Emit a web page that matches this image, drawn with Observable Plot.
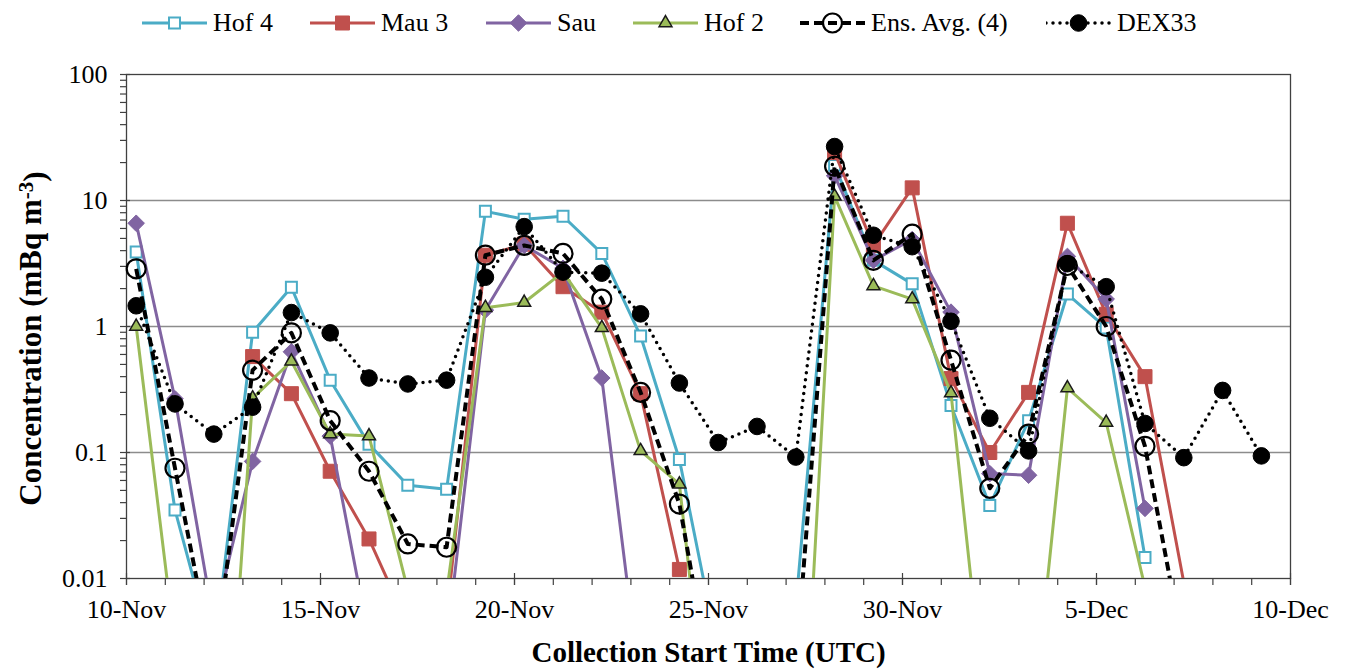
<!DOCTYPE html>
<html><head><meta charset="utf-8">
<script src="https://cdn.jsdelivr.net/npm/d3@7"></script>
<script src="https://cdn.jsdelivr.net/npm/@observablehq/plot@0.6"></script>
<style>
body{margin:0;background:#fff;font-family:"Liberation Serif","Times New Roman",serif;}
#legend{position:relative;height:45px;width:1349px;}
.item{position:absolute;top:0;height:45px;display:flex;align-items:center;font-size:26px;color:#000;white-space:nowrap;}
.item svg{margin-right:6px;}
</style></head><body>
<div id="legend"></div>
<div id="chart"></div>
<script>
// ---- data ----
const dates = [
 "2012-11-10T06:00Z","2012-11-11T06:00Z","2012-11-12T06:00Z","2012-11-13T06:00Z","2012-11-14T06:00Z",
 "2012-11-15T06:00Z","2012-11-16T06:00Z","2012-11-17T06:00Z","2012-11-18T06:00Z","2012-11-19T06:00Z",
 "2012-11-20T06:00Z","2012-11-21T06:00Z","2012-11-22T06:00Z","2012-11-23T06:00Z","2012-11-24T06:00Z",
 "2012-11-25T06:00Z","2012-11-26T06:00Z","2012-11-27T06:00Z","2012-11-28T06:00Z","2012-11-29T06:00Z",
 "2012-11-30T06:00Z","2012-12-01T06:00Z","2012-12-02T06:00Z","2012-12-03T06:00Z","2012-12-04T06:00Z",
 "2012-12-05T06:00Z","2012-12-06T06:00Z","2012-12-07T06:00Z","2012-12-08T06:00Z","2012-12-09T06:00Z"
];
const hof4 = [3.9, 0.035, 0.0025, 0.9, 2.05, 0.375, 0.116, 0.055, 0.051, 8.2,
              7.1, 7.5, 3.8, 0.84, 0.088, 0.0026, 0.003, 0.006, 19, 3.35,
              2.18, 0.236, 0.038, 0.179, 1.81, 0.975, 0.0147, null, null, null];
const mau3 = [null, null, null, 0.577, 0.293, 0.071, 0.0206, 0.0043, 0.005, 3.68,
              4.5, 2.07, 1.3, 0.293, 0.0118, null, null, null, 24, 4.4,
              12.6, 0.386, 0.10, 0.30, 6.6, 1.25, 0.40, 0.0093, null, null];
const sau  = [6.6, 0.267, 0.0045, 0.085, 0.63, 0.135, 0.0033, 0.003, 0.003, 1.35,
              4.4, 2.9, 0.39, 0.0013, null, null, null, null, 15.7, 3.35,
              4.9, 1.3, 0.068, 0.066, 3.6, 1.65, 0.036, null, null, null];
const hof2 = [1.0, 0.003, 0.00001, 0.27, 0.53, 0.14, 0.135, 0.0081, 0.0077, 1.41,
              1.55, 2.7, 0.975, 0.103, 0.056, 0.0001, 0.0001, 0.00003, 10.8, 2.1,
              1.65, 0.296, 0.0004, 0.00035, 0.325, 0.173, 0.0085, null, null, null];
const ensAvg = [2.87, 0.075, 0.002, 0.45, 0.89, 0.179, 0.071, 0.0188, 0.0177, 3.68,
                4.4, 3.8, 1.65, 0.30, 0.039, 0.0007, 0.001, 0.0019, 18.7, 3.35,
                5.4, 0.54, 0.052, 0.14, 3.05, 1.0, 0.112, 0.0026, null, null];
const dex33 = [1.46, 0.243, 0.14, 0.229, 1.29, 0.89, 0.39, 0.35, 0.375, 2.46,
               6.2, 2.7, 2.65, 1.26, 0.356, 0.12, 0.161, 0.092, 26.8, 5.3,
               4.3, 1.10, 0.187, 0.103, 3.15, 2.07, 0.17, 0.091, 0.311, 0.094];

const seriesNames = ["Hof 4", "Mau 3", "Sau", "Hof 2", "Ens. Avg. (4)", "DEX33"];
const yTicks = [0.01, 0.1, 1, 10, 100];
const yTickLabels = ["0.01", "0.1", "1", "10", "100"];
const yGrid = [0.1, 1, 10];
const xTicks = ["2012-11-10","2012-11-15","2012-11-20","2012-11-25","2012-11-30","2012-12-05","2012-12-10"];
const xTickLabels = ["10-Nov","15-Nov","20-Nov","25-Nov","30-Nov","5-Dec","10-Dec"];
const xTitle = "Collection Start Time (UTC)";
const yTitleMain = "Concentration (mBq m";
const yTitleSup = "-3";
const yTitleEnd = ")";

// ---- styles ----
const diamondSym = {draw(ctx, size) { const r = Math.sqrt(size / 2); ctx.moveTo(0, -r); ctx.lineTo(r, 0); ctx.lineTo(0, r); ctx.lineTo(-r, 0); ctx.closePath(); }};
const styles = [
  {color: "#4BACC6", width: 3, dash: null, cap: "round", symbol: d3.symbolSquare, r: 6.2, fill: "white", stroke: "#4BACC6", sw: 2},
  {color: "#C0504D", width: 3, dash: null, cap: "round", symbol: d3.symbolSquare, r: 7.9, fill: "#C0504D", stroke: "#C0504D", sw: 1},
  {color: "#8064A2", width: 3, dash: null, cap: "round", symbol: diamondSym, r: 6.6, fill: "#8064A2", stroke: "#8064A2", sw: 1},
  {color: "#9BBB59", width: 3, dash: null, cap: "round", symbol: d3.symbolTriangle, r: 4.8, fill: "#9BBB59", stroke: "#1a1a1a", sw: 1.5},
  {color: "#000000", width: 4, dash: "9,5", cap: "butt", symbol: d3.symbolCircle, r: 9.5, fill: "none", stroke: "#000", sw: 2.2},
  {color: "#000000", width: 3.5, dash: "0,7", cap: "round", symbol: d3.symbolCircle, r: 8.3, fill: "#000", stroke: "#000", sw: 1}
];
const seriesValues = [hof4, mau3, sau, hof2, ensAvg, dex33];

// ---- legend ----
const legendLeft = [142, 310, 486, 633, 800, 1046];
const legend = d3.select("#legend");
seriesNames.forEach((name, i) => {
  const s = styles[i];
  const item = legend.append("div").attr("class", "item").style("left", legendLeft[i] + "px");
  const sv = item.append("svg").attr("width", 65).attr("height", 45);
  sv.append("line").attr("x1", 0).attr("x2", 65).attr("y1", 23).attr("y2", 23)
    .attr("stroke", s.color).attr("stroke-width", s.width)
    .attr("stroke-dasharray", s.dash).attr("stroke-linecap", s.cap);
  sv.append("path").attr("d", d3.symbol(s.symbol, Math.PI * s.r * s.r)())
    .attr("transform", "translate(32.5,23)")
    .attr("fill", s.fill).attr("stroke", s.stroke).attr("stroke-width", s.sw);
  item.append("span").text(name);
});

// ---- chart ----
const parsedDates = dates.map(d => new Date(d));
const xTickDates = xTicks.map(d => new Date(d));
const xMinor = d3.utcDay.range(new Date("2012-11-10"), new Date("2012-12-11"));
const yMinor = d3.scaleLog().domain([0.01, 100]).ticks().filter(v => !yTicks.some(t => Math.abs(t - v) < 1e-9));

const marks = [
  Plot.ruleY(yGrid, {stroke: "#8c8c8c", strokeWidth: 1.3}),
  Plot.frame({stroke: "#404040", strokeWidth: 1.3}),
  Plot.axisY(yMinor, {tickSize: 6, tickFormat: () => "", stroke: "#404040", strokeWidth: 1.2, label: null}),
  Plot.axisY(yTicks, {tickSize: 10, dx: 4, tickFormat: () => "", stroke: "#404040", strokeWidth: 1.2, label: null}),
  Plot.axisY(yTicks, {tickSize: 0, tickPadding: 19, tickFormat: d => yTickLabels[yTicks.findIndex(t => Math.abs(t - d) < 1e-9)], fill: "#000", label: null}),
  Plot.axisX(xMinor, {tickSize: 7, tickFormat: () => "", stroke: "#404040", strokeWidth: 1.2, label: null}),
  Plot.axisX(xTickDates, {tickSize: 12, dy: -5, tickFormat: () => "", stroke: "#404040", strokeWidth: 1.2, label: null}),
  Plot.axisX(xTickDates, {tickSize: 0, tickPadding: 21, tickFormat: d => xTickLabels[xTickDates.findIndex(t => +t === +d)], fill: "#000", label: null}),
  Plot.text([xTitle], {frameAnchor: "bottom", dy: 74, fontWeight: "bold", fontSize: 29, lineAnchor: "middle", textAnchor: "middle", fill: "#000"}),
  Plot.text([yTitleMain], {frameAnchor: "left", dx: -95, dy: 12, rotate: -90, fontWeight: "bold", fontSize: 31, lineAnchor: "middle", textAnchor: "middle", fill: "#000"})
];

seriesValues.forEach((vals, i) => {
  const s = styles[i];
  const rows = parsedDates.map((d, j) => ({date: d, value: vals[j]}));
  marks.push(Plot.line(rows, {x: "date", y: "value", stroke: s.color, strokeWidth: s.width,
    strokeDasharray: s.dash, strokeLinecap: s.cap, strokeLinejoin: "round", clip: true}));
  marks.push(Plot.dot(rows.filter(d => d.value != null && d.value >= 0.01), {x: "date", y: "value",
    symbol: s.symbol, r: s.r, fill: s.fill, stroke: s.stroke, strokeWidth: s.sw}));
});

const chart = Plot.plot({
  width: 1349,
  height: 625,
  marginTop: 29,
  marginBottom: 92,
  marginLeft: 126,
  marginRight: 59,
  x: {type: "utc", domain: [new Date("2012-11-10"), new Date("2012-12-10")]},
  y: {type: "log", domain: [0.01, 100]},
  style: {fontFamily: '"Liberation Serif", "Times New Roman", serif', fontSize: "26px", color: "#000", background: "white"},
  marks
});
document.getElementById("chart").appendChild(chart);

// superscript in y title
const yt = [...chart.querySelectorAll("text")].find(el => el.textContent.startsWith("Concentration"));
if (yt) {
  while (yt.firstChild) yt.removeChild(yt.firstChild);
  const ns = "http://www.w3.org/2000/svg";
  const a = document.createElementNS(ns, "tspan"); a.textContent = yTitleMain; yt.appendChild(a);
  const b = document.createElementNS(ns, "tspan"); b.textContent = yTitleSup; b.setAttribute("dy", "-0.4em"); b.setAttribute("font-size", "21"); yt.appendChild(b);
  const c = document.createElementNS(ns, "tspan"); c.textContent = yTitleEnd; c.setAttribute("dy", "0.4em"); yt.appendChild(c);
}
</script>
</body></html>
